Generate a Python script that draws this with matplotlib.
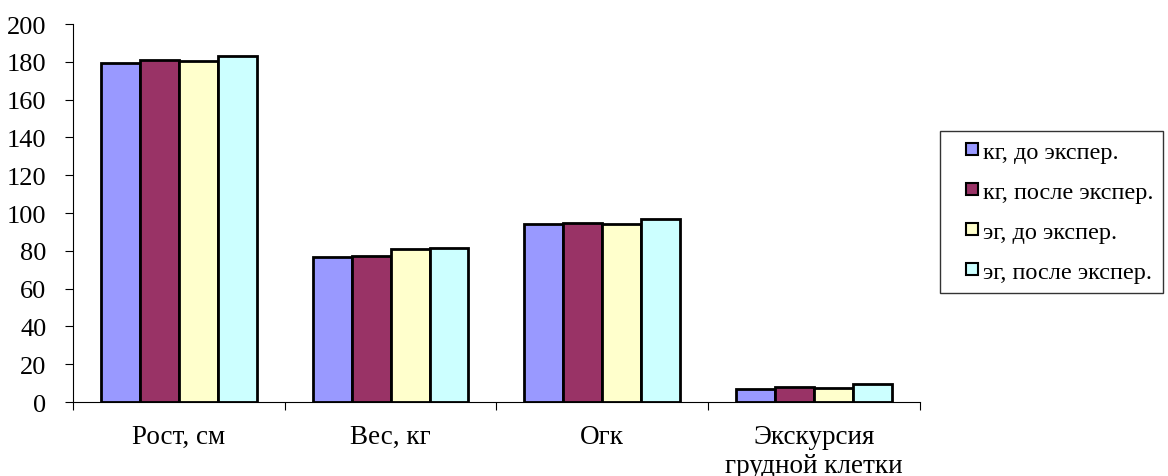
import numpy as np
import matplotlib.pyplot as plt
from matplotlib.lines import Line2D

categories = ["Рост, см", "Вес, кг", "Огк", "Экскурсия\nгрудной клетки"]
series_names = ["кг, до экспер.", "кг, после экспер.", "эг, до экспер.", "эг, после экспер."]
kg_before = [179.6, 76.5, 94.2, 6.9]
kg_after = [181.0, 77.2, 94.7, 8.2]
eg_before = [180.7, 81.2, 94.2, 7.4]
eg_after = [183.0, 81.7, 96.6, 9.8]
colors = ["#9999ff", "#993366", "#ffffcc", "#ccffff"]

plt.rcParams["font.family"] = ["Liberation Serif", "DejaVu Serif"]

fig = plt.figure(figsize=(11.68, 4.77), dpi=100)
ax = fig.add_axes([0.0625, 0.155, 0.725, 0.7925])

x = np.arange(len(categories))
width = 0.184
all_series = [kg_before, kg_after, eg_before, eg_after]
for i, (vals, c) in enumerate(zip(all_series, colors)):
    ax.bar(x + (i - 1.5) * width, vals, width, color=c, edgecolor="black",
           linewidth=2, label=series_names[i])

ax.set_xlim(-0.5, len(categories) - 0.5)
ax.set_ylim(0, 200)
ax.set_yticks(range(0, 201, 20))
ax.tick_params(axis="y", labelsize=19, direction="out", length=6, pad=13)
ax.set_xticks(np.arange(-0.5, len(categories), 1.0))
ax.set_xticklabels([])
ax.tick_params(axis="x", direction="out", length=6)
ax.set_xticks(x, minor=True)
ax.set_xticklabels(categories, minor=True, fontsize=19.5, linespacing=1.2)
ax.tick_params(axis="x", which="minor", length=0, pad=16)

for s in ["top", "right"]:
    ax.spines[s].set_visible(False)

# legend with small square markers
handles = [Line2D([], [], linestyle="none", marker="s", markersize=9,
                  markerfacecolor=c, markeredgecolor="black",
                  markeredgewidth=1.5) for c in colors]
leg = fig.legend(handles, series_names, loc="upper left",
                 bbox_to_anchor=(0.805, 0.723), borderaxespad=0,
                 fontsize=17.5, frameon=True, fancybox=False,
                 edgecolor="black", handlelength=1.8, handletextpad=-0.45,
                 labelspacing=0.74, borderpad=0.4)
leg.get_frame().set_linewidth(1.0)

fig.savefig("out.png", dpi=100)
